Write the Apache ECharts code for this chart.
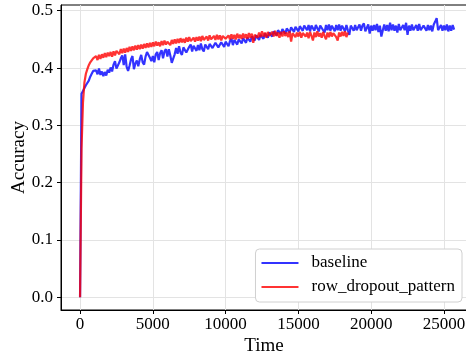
<!DOCTYPE html>
<html>
<head>
<meta charset="utf-8">
<script src="https://cdn.jsdelivr.net/npm/echarts@6/dist/echarts.min.js"></script>
<style>
  html, body { margin: 0; padding: 0; background: #fff; }
  #chart { width: 466px; height: 358px; }
</style>
</head>
<body>
<div id="chart"></div>
<script>
// sampled every 100 time units
const timeStep = 100;

const xTicks = [0, 5000, 10000, 15000, 20000, 25000];
const yTicks = [0, 0.1, 0.2, 0.3, 0.4, 0.5];

const baseline = [
  0.0, 0.355,
  0.36, 0.365, 0.37, 0.372, 0.378, 0.385, 0.39, 0.395, 0.393,
  0.396, 0.389, 0.399, 0.388, 0.394, 0.386, 0.393, 0.387, 0.397, 0.392,
  0.401, 0.394, 0.406, 0.412, 0.399, 0.396, 0.41, 0.417, 0.422, 0.405,
  0.424, 0.402, 0.395, 0.404, 0.415, 0.421, 0.398, 0.408, 0.413, 0.403,
  0.415, 0.423, 0.41, 0.406, 0.42, 0.428, 0.431, 0.418, 0.412, 0.421,
  0.41, 0.424, 0.428, 0.414, 0.426, 0.431, 0.417, 0.429, 0.433, 0.42,
  0.433, 0.422, 0.409, 0.406, 0.424, 0.435, 0.425, 0.438, 0.427, 0.423,
  0.436, 0.439, 0.427, 0.424, 0.437, 0.441, 0.429, 0.439, 0.442, 0.43,
  0.44, 0.431, 0.443, 0.433, 0.429, 0.441, 0.444, 0.433, 0.442, 0.445,
  0.435, 0.432, 0.444, 0.447, 0.436, 0.433, 0.445, 0.448, 0.437, 0.446,
  0.449, 0.438, 0.447, 0.451, 0.44, 0.449, 0.452, 0.441, 0.45, 0.453,
  0.443, 0.452, 0.455, 0.444, 0.453, 0.456, 0.446, 0.455, 0.458, 0.448,
  0.457, 0.46, 0.449, 0.458, 0.461, 0.451, 0.46, 0.463, 0.453, 0.462,
  0.465, 0.455, 0.464, 0.467, 0.457, 0.466, 0.469, 0.459, 0.468, 0.47,
  0.46, 0.469, 0.472, 0.462, 0.471, 0.473, 0.463, 0.472, 0.474, 0.464,
  0.473, 0.475, 0.465, 0.474, 0.476, 0.466, 0.475, 0.464, 0.474, 0.476,
  0.465, 0.475, 0.477, 0.464, 0.474, 0.476, 0.466, 0.462, 0.475, 0.466,
  0.476, 0.465, 0.474, 0.477, 0.464, 0.475, 0.466, 0.476, 0.465, 0.474,
  0.477, 0.464, 0.475, 0.466, 0.458, 0.474, 0.476, 0.465, 0.475, 0.466,
  0.463, 0.476, 0.465, 0.474, 0.478, 0.464, 0.466, 0.476, 0.46, 0.474,
  0.465, 0.475, 0.466, 0.477, 0.463, 0.474, 0.455, 0.466, 0.476, 0.465,
  0.475, 0.464, 0.479, 0.466, 0.476, 0.465, 0.474, 0.462, 0.477, 0.466,
  0.464, 0.475, 0.466, 0.479, 0.458, 0.474, 0.465, 0.476, 0.466, 0.464,
  0.475, 0.465, 0.477, 0.466, 0.463, 0.474, 0.476, 0.465, 0.475, 0.466,
  0.474, 0.464, 0.476, 0.481, 0.487, 0.466, 0.464, 0.475, 0.465, 0.474,
  0.466, 0.476, 0.464, 0.474, 0.465, 0.475, 0.467
];

const rowDropout = [
  0.0, 0.26, 0.34, 0.375, 0.39, 0.398, 0.405, 0.41, 0.412, 0.417, 0.415,
  0.421, 0.414, 0.423, 0.416, 0.424, 0.418, 0.426, 0.419, 0.427, 0.421,
  0.428, 0.42, 0.429, 0.422, 0.43, 0.432, 0.424, 0.433, 0.426, 0.434,
  0.427, 0.435, 0.428, 0.437, 0.43, 0.438, 0.431, 0.439, 0.432, 0.44,
  0.433, 0.441, 0.434, 0.442, 0.435, 0.443, 0.436, 0.444, 0.437, 0.445,
  0.438, 0.446, 0.439, 0.445, 0.438, 0.447, 0.44, 0.448, 0.441, 0.446,
  0.448, 0.44, 0.449, 0.442, 0.45, 0.443, 0.451, 0.444, 0.452, 0.445,
  0.451, 0.444, 0.453, 0.446, 0.454, 0.447, 0.445, 0.453, 0.446, 0.454,
  0.448, 0.455, 0.447, 0.456, 0.449, 0.446, 0.455, 0.448, 0.457, 0.45,
  0.447, 0.456, 0.449, 0.458, 0.45, 0.457, 0.448, 0.456, 0.459, 0.451,
  0.449, 0.457, 0.45, 0.459, 0.451, 0.458, 0.45, 0.46, 0.452, 0.458,
  0.451, 0.46, 0.452, 0.459, 0.451, 0.461, 0.453, 0.46, 0.444, 0.458,
  0.461, 0.453, 0.462, 0.454, 0.464, 0.455, 0.462, 0.453, 0.463, 0.456,
  0.454, 0.463, 0.455, 0.465, 0.456, 0.462, 0.453, 0.463, 0.455, 0.464,
  0.456, 0.462, 0.454, 0.464, 0.446, 0.461, 0.464, 0.454, 0.462, 0.455,
  0.463, 0.453, 0.461, 0.464, 0.455, 0.462, 0.452, 0.463, 0.456, 0.448,
  0.462, 0.454, 0.464, 0.455, 0.461, 0.453, 0.463, 0.456, 0.45, 0.462,
  0.454, 0.463, 0.455, 0.461, 0.464, 0.454, 0.448, 0.462, 0.455, 0.463,
  0.456, 0.464, 0.454, 0.462
];

const seriesNames = ['baseline', 'row_dropout_pattern'];
const seriesColors = ['rgba(0, 0, 255, 0.8)', 'rgba(255, 0, 0, 0.8)'];

const toPoints = (values) => values.map((v, i) => [i * timeStep, v]);

const chart = echarts.init(document.getElementById('chart'));
const font = 'Liberation Serif';

const option = {
  animation: false,
  backgroundColor: '#fff',
  grid: {
    left: 61,
    right: -1,
    top: 5,
    bottom: 48,
    outerBoundsMode: 'none',
    show: true,
    borderColor: '#000',
    borderWidth: 1,
  },
  legend: {
    orient: 'vertical',
    right: 4,
    bottom: 56,
    padding: [5, 7, 6, 6],
    itemGap: 6,
    itemWidth: 37,
    itemHeight: 14,
    backgroundColor: '#fff',
    borderColor: '#d0d0d0',
    borderWidth: 1,
    borderRadius: 4,
    icon: 'path://M0,6 L37,6 L37,8 L0,8 Z',
    textStyle: {
      fontFamily: font,
      fontSize: 17,
      color: '#000',
      lineHeight: 18,
      padding: [0, 0, 0, 8],
    },
    data: seriesNames,
  },
  xAxis: {
    type: 'value',
    min: -1310,
    max: 26585,
    name: 'Time',
    nameLocation: 'middle',
    nameGap: 27,
    nameMoveOverlap: false,
    nameTextStyle: { fontFamily: font, fontSize: 19, color: '#000' },
    axisLine: { show: true, onZero: false, lineStyle: { color: '#000', width: 1 } },
    axisTick: { show: true, length: 4, customValues: xTicks, lineStyle: { color: '#000' } },
    axisLabel: {
      fontFamily: font,
      fontSize: 17,
      color: '#000',
      margin: 6,
      customValues: xTicks,
      formatter: (v) => String(v),
    },
    splitLine: { show: true, lineStyle: { color: '#e3e3e3', width: 1 } },
  },
  yAxis: {
    type: 'value',
    min: -0.0222,
    max: 0.51,
    name: 'Accuracy',
    nameLocation: 'middle',
    nameGap: 32,
    nameMoveOverlap: false,
    nameTextStyle: { fontFamily: font, fontSize: 19, color: '#000' },
    axisLine: { show: true, onZero: false, lineStyle: { color: '#000', width: 1 } },
    axisTick: { show: true, length: 4, customValues: yTicks, lineStyle: { color: '#000' } },
    axisLabel: {
      fontFamily: font,
      fontSize: 17,
      color: '#000',
      margin: 8,
      customValues: yTicks,
      formatter: (v) => v.toFixed(1),
    },
    splitLine: { show: true, lineStyle: { color: '#e3e3e3', width: 1 } },
  },
  series: [
    {
      name: seriesNames[0],
      type: 'line',
      data: toPoints(baseline),
      symbol: 'none',
      color: seriesColors[0],
      lineStyle: { color: seriesColors[0], width: 2.2 },
    },
    {
      name: seriesNames[1],
      type: 'line',
      data: toPoints(rowDropout),
      symbol: 'none',
      color: seriesColors[1],
      lineStyle: { color: seriesColors[1], width: 2.2 },
    },
  ],
};

chart.setOption(option);
</script>
</body>
</html>
